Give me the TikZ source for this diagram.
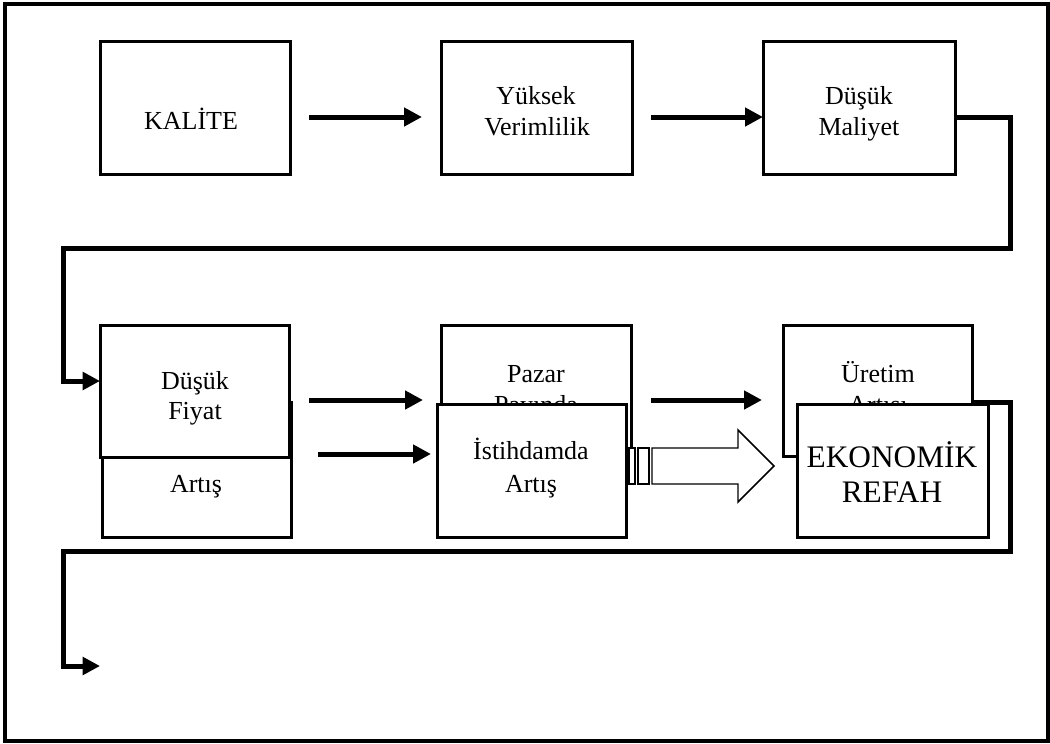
\documentclass[tikz,border=0pt]{standalone}
\usepackage{fontspec}
\setmainfont{Liberation Serif}
\usetikzlibrary{arrows.meta,calc}
\newcommand\pxbox[6][]{\node[box,#1,anchor=north west,minimum width={(#5-#3)*0.75pt},minimum height={(#6-#4)*0.75pt}] (#2) at (#3,#4) {};}
\begin{document}
\begin{tikzpicture}[x=0.75pt,y=-0.75pt,
  box/.style={draw,line width=2.25pt,fill=white,inner sep=0pt,outer sep=0pt},
  txt/.style={anchor=base,inner sep=0pt,font=\fontsize{19.5}{23}\selectfont},
  bigtxt/.style={anchor=base,inner sep=0pt,font=\fontsize{23.5}{27}\selectfont},
  arr/.style={line width=3.75pt,-{Triangle[length=13.5pt,width=13.5pt]}},
  conn/.style={line width=3.75pt,line join=miter,-{Triangle[length=13pt,width=13pt]}},
  hollow/.style={draw,line width=1.1pt,fill=white,line join=miter}]
\useasboundingbox (0,0) rectangle (1050,743);
\draw[line width=3pt] (5,3.5) rectangle (1048,741);

% row 1
\pxbox{kal}{100}{41}{290}{174}
\pxbox{yuk}{441}{41}{632}{174}
\pxbox{mal}{763}{41}{955}{174}
\node[txt] (tkal) at (191,129) {KALİTE};
\node[txt] (tyuk1) at (536,104) {Yüksek};
\node[txt] (tyuk2) at (537,135) {Verimlilik};
\node[txt] (tmal1) at (859,104) {Düşük};
\node[txt] (tmal2) at (859,135) {Maliyet};
\draw[arr] ($(kal.east)+(19,9.5)$) -- ($(yuk.west)+(-19,9.5)$);
\draw[arr] ($(yuk.east)+(19,9.5)$) -- ($(mal.west)+(0,9.5)$);

% row 2 (overlapping boxes)
\pxbox{art}{102}{402}{291}{537}
\node[txt] (tart) at (196,492) {Artış};
\pxbox{fiy}{100}{325}{289}{457}
\node[txt] (tfiy1) at (195,389) {Düşük};
\node[txt] (tfiy2) at (195,419) {Fiyat};
\pxbox{paz}{441}{325}{631}{456}
\node[txt] (tpaz1) at (536,382) {Pazar};
\node[txt] (tpaz2) at (536,413) {Payında};
\pxbox{ist}{437}{404}{626}{537}
\node[txt] (tist1) at (531,459) {İstihdamda};
\node[txt] (tist2) at (531,492) {Artış};
\pxbox{ure}{783}{325}{972}{456}
\node[txt] (ture1) at (878,382) {Üretim};
\node[txt] (ture2) at (878,413) {Artışı};
\pxbox{eko}{797}{404}{988}{537}
\node[bigtxt] (teko1) at (892,467) {EKONOMİK};
\node[bigtxt] (teko2) at (892,502) {REFAH};

\draw[arr] ($(fiy.east)+(20,9)$) -- ($(paz.west)+(-18,9.5)$);
\draw[arr] ($(art.east)+(27,-15.5)$) -- ($(ist.west)+(-6,-16.5)$);
\draw[arr] ($(paz.east)+(20,9.5)$) -- ($(ure.west)+(-21,9.5)$);

% hollow block arrow
\draw[hollow] (629,448) rectangle (635,484);
\draw[hollow] (638,448) rectangle (649,484);
\draw[hollow] (652,448) -- (738,448) -- (738,430) -- (774,466) -- (738,502) -- (738,484) -- (652,484) -- cycle;

% connectors
\coordinate (c1a) at (1010,117);
\coordinate (c1b) at (1010,248);
\coordinate (c1c) at (63,248);
\draw[conn] ($(mal.east)+(0,9.5)$) -- (c1a) -- (c1b) -- (c1c) |- ($(fiy.west)+(0,-10)$);
\coordinate (c2a) at (1010,402);
\coordinate (c2b) at (1010,551);
\coordinate (c2c) at (63,551);
\coordinate (c2end) at (100,666);
\draw[conn] (ure.east |- c2a) -- (c2a) -- (c2b) -- (c2c) |- (c2end);
\end{tikzpicture}
\end{document}
